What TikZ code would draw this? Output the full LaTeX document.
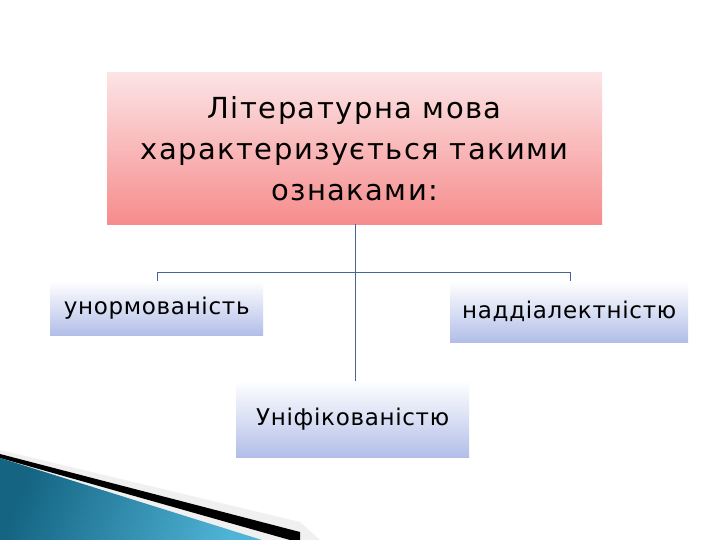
\documentclass[tikz,border=0pt]{standalone}
\usepackage{fontspec}
\setmainfont{DejaVu Sans}
\newfontfamily\spaced[LetterSpace=5]{DejaVu Sans}
\newfontfamily\spacedb[LetterSpace=3]{DejaVu Sans}
\definecolor{boxbot}{RGB}{178,190,232}
\definecolor{pinktop}{RGB}{252,228,230}
\definecolor{pinkbot}{RGB}{246,140,140}
\definecolor{connc}{RGB}{70,100,150}
\definecolor{teal1}{RGB}{20,100,130}
\definecolor{teal2}{RGB}{80,180,215}
\begin{document}
\begin{tikzpicture}[x=1pt,y=-1pt,
 box/.style={draw=none,inner sep=0pt,top color=white,bottom color=boxbot,anchor=north west},
 lbl/.style={font=\spacedb\fontsize{23}{27}\selectfont},
 conn/.style={draw=connc,line width=1pt}]
\useasboundingbox (0,0) rectangle (720,540);
\fill[white] (0,0) rectangle (720,540);
% decoration
\fill[gray!12] (0,450) -- (300,522) -- (320,540) -- (0,540) -- cycle;
\fill[black] (0,454) -- (300,532) -- (300,540) -- (290,540) -- (0,458) -- cycle;
\shade[left color=teal1,right color=teal2,shading angle=70] (0,458) -- (262,540) -- (0,540) -- cycle;
% boxes
\node[anchor=north west,minimum width=495,minimum height=152,inner sep=0pt,top color=pinktop,bottom color=pinkbot] (top) at (107,72) {};
\node[align=center,font=\spaced\fontsize{29}{41}\selectfont] at (top.center) {Літературна мова\\характеризується такими\\ознаками:};
\node[box,minimum width=213,minimum height=54] (l) at (50,281) {};
\node[lbl] at (l.center) {унормованість};
\node[box,minimum width=238,minimum height=61] (r) at (450,281) {};
\node[lbl] at (r.center) {наддіалектністю};
\node[box,minimum width=233,minimum height=76] (b) at (236,381) {};
\node[lbl] at (b.center) {Уніфікованістю};
% connectors
\coordinate (j) at (355,272);
\draw[conn] (top.south -| j) -- (j);
\draw[conn] (j) -- (157,272) -- (l.north -| 157,0);
\draw[conn] (j) -- (570,272) -- (r.north -| 570,0);
\draw[conn] (j) -- (b.north -| j);
\end{tikzpicture}
\end{document}
